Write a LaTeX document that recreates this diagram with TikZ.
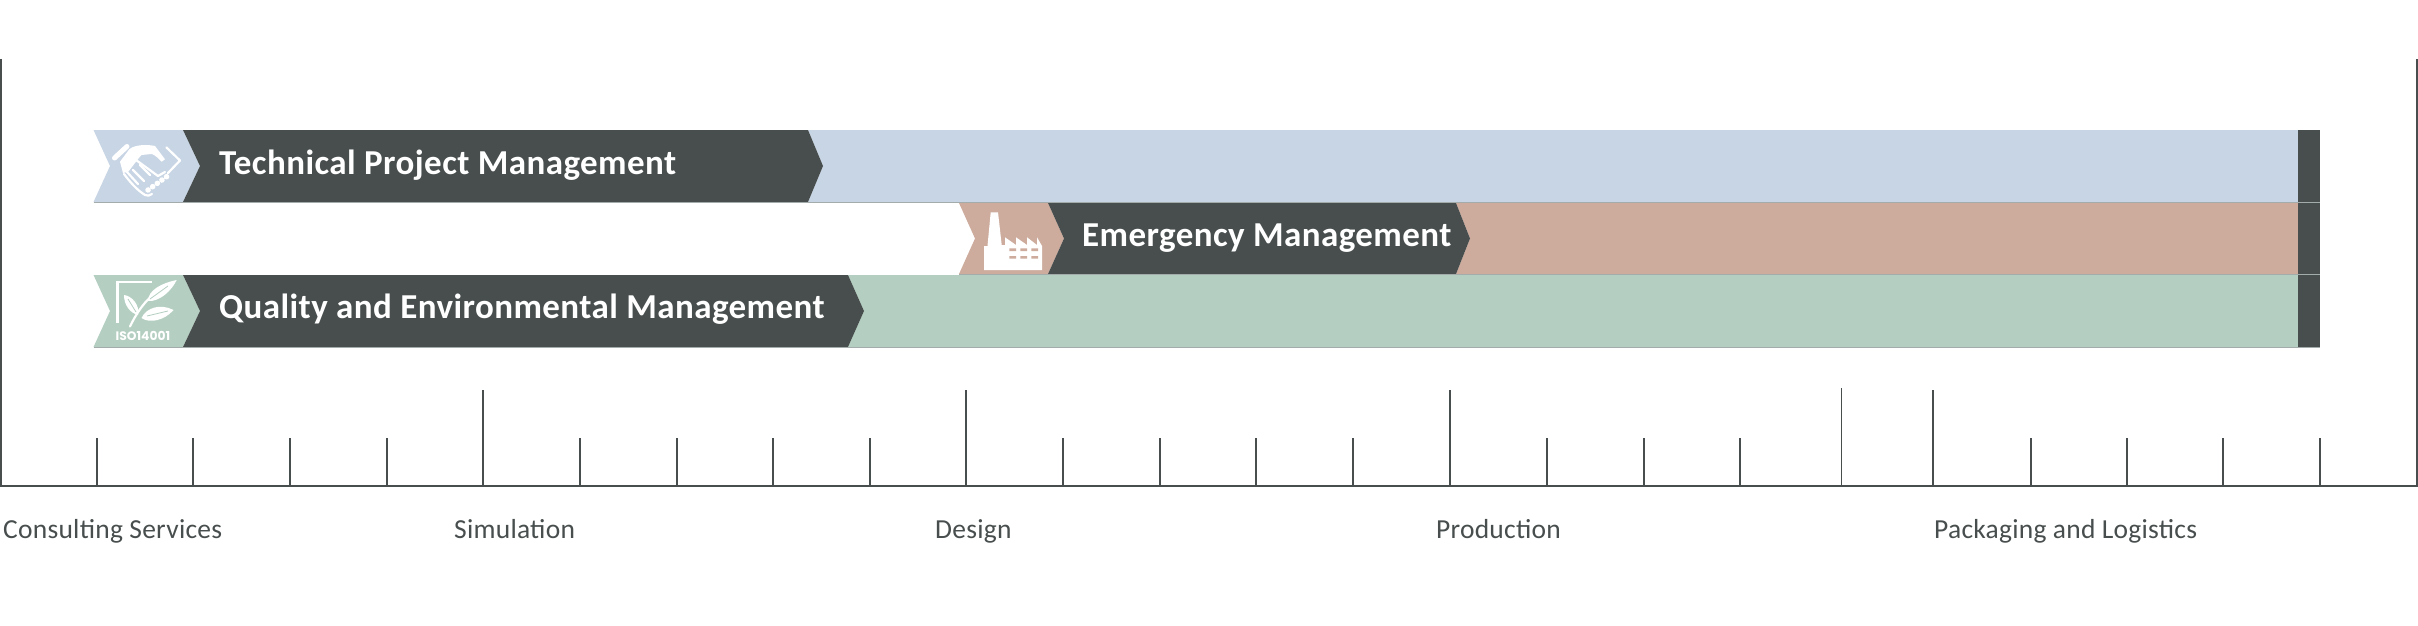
\documentclass[tikz,border=0pt]{standalone}
\usepackage{fontspec}
\setmainfont{Carlito}
\newfontfamily\titlefont[LetterSpace=1.25]{Carlito}
\newfontfamily\labfont[LetterSpace=0.9]{Carlito}
\newfontfamily\isofont{Poppins}
\definecolor{dk}{HTML}{474E4D}
\definecolor{bl}{HTML}{C8D5E4}
\definecolor{rs}{HTML}{CDAC9E}
\definecolor{gn}{HTML}{B4CFC1}
\definecolor{ln}{HTML}{A3ABAB}
\tikzset{
  title/.style={text=white,anchor=base west,inner sep=0pt,font=\titlefont\fontsize{35}{35}\selectfont\bfseries},
  lab/.style={text=dk,anchor=base west,inner sep=0pt,font=\labfont\fontsize{27.5}{27.5}\selectfont},
  tick/.style={draw=dk,line width=2pt},
  sep/.style={draw=ln,line width=1.6pt},
  icl/.style={draw=white,line width=2.2pt,line cap=round,line join=round},
  iclf/.style={draw=white,line width=2.2pt,line cap=round,line join=round}
}
\begin{document}
\begin{tikzpicture}[x=1pt,y=-1pt]
\useasboundingbox (0,0) rectangle (2418,626);
% row 1
\fill[bl] (93.5,130) -- (183,130) -- (200,166) -- (183,202) -- (93.5,202) -- (110,166) -- cycle;
\fill[bl] (808,130) -- (2298,130) -- (2298,202) -- (808,202) -- (823,166) -- cycle;
\fill[dk] (183,130) -- (808,130) -- (823,166) -- (808,202) -- (183,202) -- (200,166) -- cycle;
\fill[dk] (2298,130) rectangle (2320,202);
% row 2
\fill[rs] (959,203) -- (1048,203) -- (1064,238.5) -- (1048,274) -- (959,274) -- (975,238.5) -- cycle;
\fill[rs] (1456,203) -- (2298,203) -- (2298,274) -- (1456,274) -- (1470,238.5) -- cycle;
\fill[dk] (1048,203) -- (1456,203) -- (1470,238.5) -- (1456,274) -- (1048,274) -- (1064,238.5) -- cycle;
\fill[dk] (2298,203) rectangle (2320,274);
% row 3
\fill[gn] (93.5,275) -- (183,275) -- (200,311) -- (183,347) -- (93.5,347) -- (110,311) -- cycle;
\fill[gn] (848,275) -- (2298,275) -- (2298,347) -- (848,347) -- (864,311) -- cycle;
\fill[dk] (183,275) -- (848,275) -- (864,311) -- (848,347) -- (183,347) -- (200,311) -- cycle;
\fill[dk] (2298,275) rectangle (2320,347);
% separators
\draw[sep] (93.5,202.5) -- (2320,202.5);
\draw[sep] (959,274.5) -- (2320,274.5);
\draw[sep] (93.5,347.5) -- (1427,347.5);
\draw[draw=ln,line width=1pt] (1427,347.3) -- (2320,347.3);
% axis
\draw[draw=dk,line width=2pt] (1,59) -- (1,486) -- (2417,486) -- (2417,59);
\foreach \tx in {97,193,290,387,580,677,773,870,1063,1160,1256,1353,1547,1644,1740,2031,2127,2223,2320}{
  \draw[tick] (\tx,438) -- (\tx,486);
}
\foreach \tx in {483,966,1450,1933}{\draw[tick] (\tx,390) -- (\tx,486);}
\draw[draw=dk,line width=1pt] (1841.5,388) -- (1841.5,486);
% titles
\node[title] (t1) at (219,174) {Technical Project Management};
\node[title] (t2) at (1082,246.5) {Emergency Management};
\node[title] (t3) at (219,318.5) {Quality and Environmental Management};
% labels
\node[lab] (l1) at (3,538) {Consulting Services};
\node[lab] (l2) at (454,538) {Simulation};
\node[lab] (l3) at (935,538) {Design};
\node[lab] (l4) at (1436,538) {Production};
\node[lab] (l5) at (1934,538) {Packaging and Logistics};
% handshake icon
\draw[white,line width=5pt,line cap=round] (114.5,158) -- (127,146.5);
\draw[iclf] (166.5,147.5) -- (180,160.5) -- (168,173);
\fill[white] (120,161.7) -- (129.3,149.3) .. controls (134,145) and (146,144) .. (155,146) -- (165,159.3) -- (161.7,161.7) .. controls (158,158) and (155,155) .. (151.7,154) -- (141.7,155) .. controls (139,157) and (137,161) .. (135,163) -- (128.3,171.7) -- (123,173) -- cycle;
\draw[iclf] (124,174) .. controls (130,182) and (137,190) .. (145,195);
\draw[iclf] (127,172) -- (138,184);
\draw[iclf] (133,170) -- (144,181);
\draw[iclf] (140,165) -- (150,175);
\draw[iclf] (145,195) .. controls (147,196) and (150,196) .. (152,194);
\draw[white,line width=5.5pt,line cap=round,dash pattern=on 0.1pt off 5.6pt] (148,190) -- (169,175);
\draw[iclf] (136,160) -- (158,176);
\draw[iclf] (158,176) -- (165,172);
% factory icon
\fill[white] (984,270) -- (984,246) -- (987.5,246) -- (990.7,212.3) -- (998,212.3) -- (1001.7,245) -- (1005,245) -- (1005,237.3) -- (1016,245) -- (1016,237.3) -- (1027,245) -- (1027,237.3) -- (1037,245) -- (1037,237.3) -- (1042,246) -- (1042,270) -- cycle;
\fill[rs] (1009.3,248.3) rectangle (1016,251) (1020.3,248.3) rectangle (1027,251) (1031.3,248.3) rectangle (1038,251)
          (1009.3,256) rectangle (1016,258.7) (1020.3,256) rectangle (1027,258.7) (1031.3,256) rectangle (1038,258.7);
% ISO plant icon
\draw[icl,line cap=butt,line join=miter] (117.5,323) -- (117.5,281.7) -- (152,281.7);
\draw[iclf] (130,326.5) .. controls (135,316) and (143,303) .. (152,296);
\fill[white] (148,301) .. controls (148,290) and (162,283) .. (176.7,280) .. controls (172,290) and (160,302) .. (148,301) -- cycle;
\fill[white] (141.5,318) .. controls (146,308) and (160,303) .. (173.5,310) .. controls (165,320) and (150,324) .. (141.5,318) -- cycle;
\fill[white] (124,295) .. controls (132,296) and (140,305) .. (138,315) .. controls (130,313) and (124,305) .. (124,295) -- cycle;
\draw[gn,line width=.8pt] (150,299) -- (168,286);
\draw[gn,line width=.8pt] (147,316) -- (168,311);
\draw[gn,line width=.8pt] (128,299) -- (136,312);
\node[text=white,anchor=base west,inner sep=0pt,font=\isofont\bfseries\fontsize{12.3}{12}\selectfont] (iso) at (115.5,340) {ISO14001};
\end{tikzpicture}
\end{document}
